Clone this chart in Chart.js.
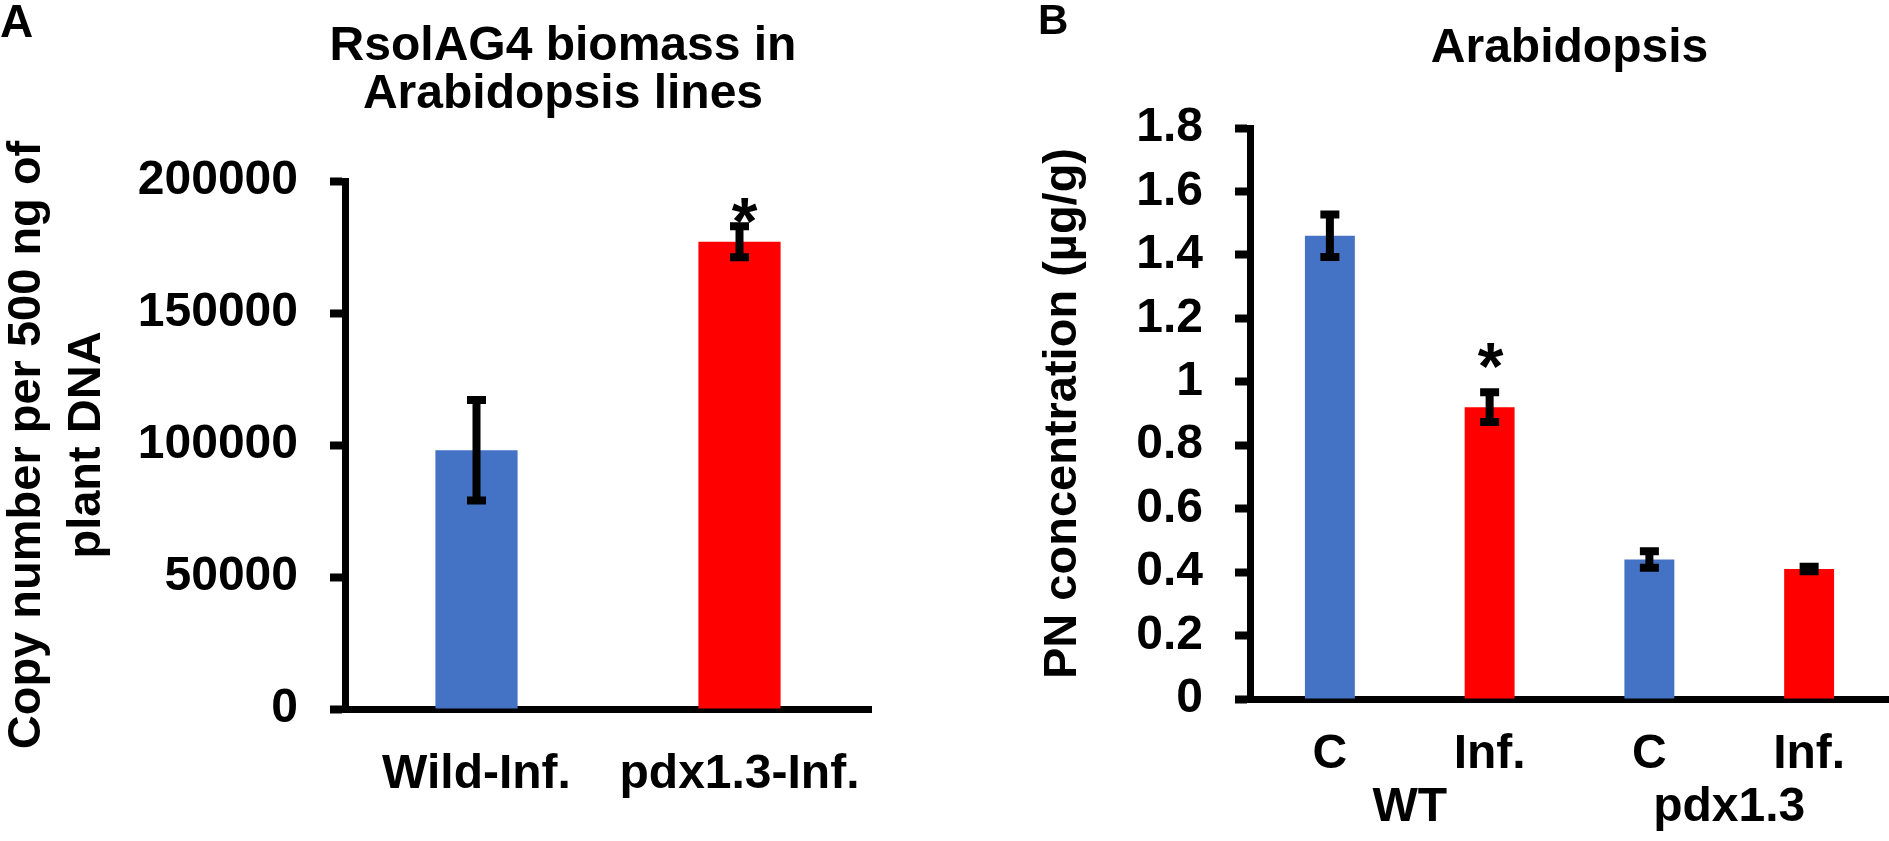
<!DOCTYPE html>
<html>
<head>
<meta charset="utf-8">
<script src="https://cdn.jsdelivr.net/npm/chart.js@4.4.1/dist/chart.umd.min.js"></script>
<style>
html, body { margin: 0; padding: 0; background: #ffffff; }
body { width: 1889px; height: 841px; position: relative; overflow: hidden; }
#ca { position: absolute; left: 0; top: 0; }
#cb { position: absolute; left: 1000px; top: 0; }
</style>
</head>
<body>
<canvas id="ca" width="1126" height="841"></canvas>
<canvas id="cb" width="889" height="841"></canvas>
<script>
// ---------- Panel A data ----------
const categoriesA = ['Wild-Inf.', 'pdx1.3-Inf.'];
const valuesA = [98000, 177000];
const errorsA = [19000, 5900];
const significanceA = ['', '*'];
const yTicksA = [0, 50000, 100000, 150000, 200000];
const titleA = ['RsolAG4 biomass in', 'Arabidopsis lines'];
const yTitleA = ['Copy number per 500 ng of', 'plant DNA'];

// ---------- Panel B data ----------
const categoriesB = ['C', 'Inf.', 'C', 'Inf.'];
const groupsB = ['WT', 'pdx1.3'];
const valuesB = [1.46, 0.92, 0.44, 0.41];
const errorsB = [0.067, 0.047, 0.026, 0.007];
const significanceB = ['', '*', '', ''];
const yTicksB = [0, 0.2, 0.4, 0.6, 0.8, 1, 1.2, 1.4, 1.6, 1.8];
const titleB = 'Arabidopsis';
const yTitleB = 'PN concentration (\u00B5g/g)';

// ---------- styles ----------
const BLUE = '#4472C4';
const RED = '#FF0000';
const FONT = '"Liberation Sans", Arial, Helvetica, sans-serif';

Chart.defaults.font.family = FONT;
Chart.defaults.font.weight = 'bold';
Chart.defaults.color = '#000000';

const errorBarPlugin = {
  id: 'errorBars',
  afterDatasetsDraw(chart, args, opts) {
    const ctx = chart.ctx;
    const meta = chart.getDatasetMeta(0);
    const ys = chart.scales.y;
    const data = chart.data.datasets[0].data;
    ctx.save();
    ctx.strokeStyle = '#000000';
    ctx.fillStyle = '#000000';
    ctx.lineCap = 'butt';
    meta.data.forEach((bar, i) => {
      const v = data[i], e = opts.errors[i];
      const yt = ys.getPixelForValue(v + e);
      const yb = ys.getPixelForValue(v - e);
      ctx.lineWidth = opts.stemWidth;
      ctx.beginPath();
      ctx.moveTo(bar.x, yt);
      ctx.lineTo(bar.x, yb);
      ctx.stroke();
      ctx.lineWidth = opts.capThickness;
      ctx.beginPath();
      ctx.moveTo(bar.x - opts.capHalf, yt);
      ctx.lineTo(bar.x + opts.capHalf, yt);
      ctx.moveTo(bar.x - opts.capHalf, yb);
      ctx.lineTo(bar.x + opts.capHalf, yb);
      ctx.stroke();
      const mark = opts.marks[i];
      if (mark) {
        ctx.font = 'bold ' + opts.markSize + 'px ' + FONT;
        ctx.textAlign = 'center';
        ctx.textBaseline = 'alphabetic';
        const cy = yt - opts.markGap;
        ctx.fillText(mark, bar.x + opts.markDx, cy + 0.565 * opts.markSize);
      }
    });
    ctx.restore();
  }
};

const panelLetterPlugin = {
  id: 'panelLetter',
  afterDraw(chart, args, opts) {
    const ctx = chart.ctx;
    ctx.save();
    ctx.font = 'bold ' + opts.size + 'px ' + FONT;
    ctx.fillStyle = '#000000';
    ctx.textAlign = 'left';
    ctx.textBaseline = 'alphabetic';
    ctx.fillText(opts.text, opts.x, opts.y);
    ctx.restore();
  }
};

function yAxis(ticksArr, max, width, title, titleFont, titlePad) {
  return {
    type: 'linear',
    min: 0,
    max: max,
    afterBuildTicks: s => { s.ticks = ticksArr.map(v => ({ value: v })); },
    afterFit: s => { s.width = width; },
    ticks: {
      font: { size: 48, weight: 'bold' },
      color: '#000000',
      padding: 32,
      autoSkip: false,
      callback: v => String(v)
    },
    grid: {
      display: true,
      drawOnChartArea: false,
      drawTicks: true,
      tickLength: 15,
      tickWidth: 8,
      tickColor: '#000000'
    },
    border: { display: true, color: '#000000', width: 7 },
    title: {
      display: true,
      text: title,
      color: '#000000',
      font: titleFont,
      padding: titlePad
    }
  };
}

// ---------- Panel A ----------
new Chart(document.getElementById('ca'), {
  type: 'bar',
  data: {
    labels: categoriesA,
    datasets: [{
      data: valuesA,
      backgroundColor: [BLUE, RED],
      borderWidth: 0,
      barPercentage: 0.3125,
      categoryPercentage: 1
    }]
  },
  options: {
    responsive: false,
    animation: false,
    events: [],
    layout: { padding: { left: 0, right: 0, top: 0, bottom: 0 } },
    plugins: {
      legend: { display: false },
      tooltip: { enabled: false },
      title: {
        display: true,
        text: titleA,
        color: '#000000',
        font: { size: 48, weight: 'bold', lineHeight: 1 },
        padding: { top: 23, bottom: 62 }
      },
      errorBars: {
        errors: errorsA, marks: significanceA,
        stemWidth: 8, capThickness: 8, capHalf: 9.5,
        markSize: 66, markGap: 19, markDx: 5
      },
      panelLetter: { text: 'A', x: 0, y: 37, size: 46 }
    },
    scales: {
      x: {
        grid: { display: false, drawTicks: false },
        border: { display: true, color: '#000000', width: 7 },
        ticks: {
          font: { size: 48, weight: 'bold', lineHeight: 1 },
          color: '#000000',
          padding: 42,
          maxRotation: 0, minRotation: 0, autoSkip: false
        }
      },
      y: yAxis(yTicksA, 200000, 345, yTitleA,
               { size: 47, weight: 'bold', lineHeight: 60 / 47 },
               { top: -3, bottom: 0 }),
      yR: {
        type: 'linear',
        position: 'right',
        display: true,
        afterFit: s => { s.width = 255; },
        ticks: { display: false },
        grid: { display: false, drawTicks: false },
        border: { display: false }
      }
    }
  },
  plugins: [errorBarPlugin, panelLetterPlugin]
});

// ---------- Panel B ----------
new Chart(document.getElementById('cb'), {
  type: 'bar',
  data: {
    labels: categoriesB,
    datasets: [{
      data: valuesB,
      backgroundColor: [BLUE, RED, BLUE, RED],
      borderWidth: 0,
      barPercentage: 0.3125,
      categoryPercentage: 1
    }]
  },
  options: {
    responsive: false,
    animation: false,
    events: [],
    layout: { padding: { left: 0, right: 0, top: 0, bottom: 25.6 } },
    plugins: {
      legend: { display: false },
      tooltip: { enabled: false },
      title: {
        display: true,
        fullSize: false,
        text: titleB,
        color: '#000000',
        font: { size: 48, weight: 'bold', lineHeight: 1 },
        padding: { top: 25, bottom: 55 }
      },
      errorBars: {
        errors: errorsB, marks: significanceB,
        stemWidth: 8, capThickness: 8, capHalf: 9.5,
        markSize: 66, markGap: 41, markDx: 1
      },
      panelLetter: { text: 'B', x: 38, y: 34, size: 42 }
    },
    scales: {
      x: {
        weight: 0,
        grid: { display: false, drawTicks: false },
        border: { display: true, color: '#000000', width: 7 },
        ticks: {
          font: { size: 48, weight: 'bold', lineHeight: 1 },
          color: '#000000',
          padding: 32,
          maxRotation: 0, minRotation: 0, autoSkip: false
        }
      },
      x2: {
        type: 'category',
        labels: groupsB,
        position: 'bottom',
        offset: true,
        weight: 1,
        grid: { display: false, drawTicks: false },
        border: { display: false },
        ticks: {
          font: { size: 48, weight: 'bold', lineHeight: 2 / 48 },
          color: '#000000',
          padding: 2.2,
          mirror: true,
          maxRotation: 0, minRotation: 0, autoSkip: false
        }
      },
      y: yAxis(yTicksB, 1.8, 250, yTitleB,
               { size: 47, weight: 'bold', lineHeight: 1.2 },
               { top: 34.8, bottom: 0 })
    }
  },
  plugins: [errorBarPlugin, panelLetterPlugin]
});
</script>
</body>
</html>
